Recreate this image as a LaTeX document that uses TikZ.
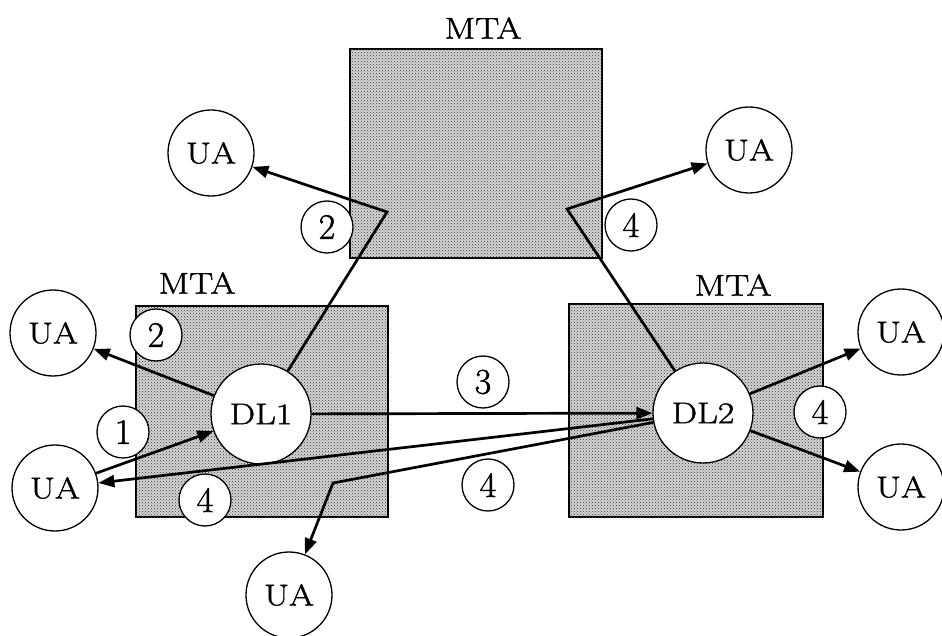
\documentclass[tikz,border=0pt]{standalone}
\usepackage{graphicx}
\usepackage{fontspec}
\setmainfont{Latin Modern Roman}[BoldFont={Latin Modern Roman},BoldFeatures={FakeBold=1.2}]
\usetikzlibrary{arrows.meta,patterns}
% enlarged, widened lettering
\newcommand\wtxt[1]{\scalebox{1.5}[1.25]{\bfseries #1}}
\newcommand\dtxt[1]{\scalebox{1.5}[1.5]{\bfseries #1}}
\begin{document}
\begin{tikzpicture}[x=1pt,y=-1pt,
  bigfont/.style={font=\fontsize{24}{29}\selectfont},
  mtabox/.style={draw=black,line width=1.8pt,fill=black!16,
    postaction={pattern=crosshatch dots,pattern color=black!80},
    inner sep=0pt,outer sep=0pt},
  ua/.style={circle,draw,line width=1.3pt,fill=white,minimum size=86pt,inner sep=0pt,bigfont},
  dl/.style={ua,minimum size=100pt},
  num/.style={circle,draw,line width=1.3pt,fill=white,minimum size=52pt,inner sep=0pt,bigfont},
  lbl/.style={bigfont},
  msg/.style={line width=2.7pt,-{Triangle[length=16pt,width=12pt]}},
]
\useasboundingbox (0,0) rectangle (942,636);

% message transfer agents
\node[mtabox,minimum width=252pt,minimum height=209pt] (mtaT) at (476,153.5) {};
\node[mtabox,minimum width=252pt,minimum height=211pt] (mtaL) at (262,411.5) {};
\node[mtabox,minimum width=254pt,minimum height=213pt] (mtaR) at (696,410.5) {};
\node[lbl] (lT) at (483,28) {\wtxt{MTA}};
\node[lbl] (lL) at (197,283) {\wtxt{MTA}};
\node[lbl] (lR) at (733,285) {\wtxt{MTA}};

% distribution lists
\node[dl] (dl1) at (261,414) {\wtxt{DL1}};
\node[dl] (dl2) at (703,413) {\wtxt{DL2}};

% user agents
\node[ua] (uaT1) at (211,153) {\wtxt{UA}};
\node[ua] (uaT2) at (749,150) {\wtxt{UA}};
\node[ua] (uaL1) at (53,333) {\wtxt{UA}};
\node[ua] (uaL2) at (55,488) {\wtxt{UA}};
\node[ua] (uaB) at (289,595) {\wtxt{UA}};
\node[ua] (uaR1) at (901,332) {\wtxt{UA}};
\node[ua] (uaR2) at (901,487) {\wtxt{UA}};

% step numbers
\node[num] (n2a) at (327,227) {\dtxt{2}};
\node[num] (n4a) at (631,225) {\dtxt{4}};
\node[num] (n2b) at (156,335) {\dtxt{2}};
\node[num] (n1)  at (123,432) {\dtxt{1}};
\node[num] (n4b) at (205,500) {\dtxt{4}};
\node[num] (n3)  at (483,382) {\dtxt{3}};
\node[num] (n4c) at (488,485) {\dtxt{4}};
\node[num] (n4d) at (820,412) {\dtxt{4}};

% bend points of routed messages
\coordinate (b1) at (387,212);
\coordinate (b2) at (567,209);
\coordinate (b3) at (333,483);

% message flow
\draw[msg] (uaL2) -- (dl1);
\draw[msg] (dl1) -- (uaL1);
\draw[msg] (dl1) -- (b1) -- (uaT1);
\draw[msg] (dl1) -- (dl2);
\draw[msg] (dl2) -- (b2) -- (uaT2);
\draw[msg] (dl2) -- (uaL2);
\draw[msg] (dl2) -- (b3) -- (uaB);
\draw[msg] (dl2) -- (uaR1);
\draw[msg] (dl2) -- (uaR2);
\end{tikzpicture}
\end{document}
